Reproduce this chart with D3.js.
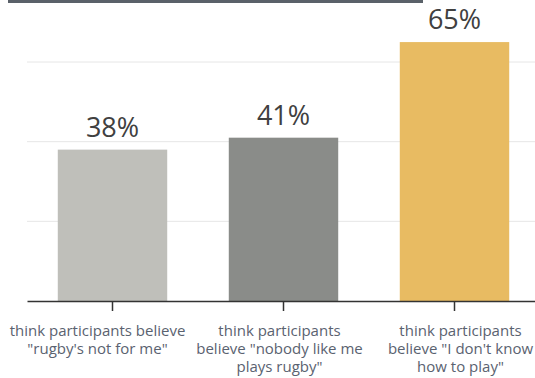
<!DOCTYPE html>
<html>
<head>
<meta charset="utf-8">
<script src="https://cdn.jsdelivr.net/npm/d3@7"></script>
<style>
  body { margin: 0; background: #fff; }
  svg { display: block; font-family: "Open Sans", sans-serif; }
</style>
</head>
<body>
<svg width="535" height="378"></svg>
<script>
// categories (line breaks as in the picture)
const categories = [
  ["think participants believe", "\"rugby's not for me\""],
  ["think participants", "believe \"nobody like me", "plays rugby\""],
  ["think participants", "believe \"I don't know", "how to play\""]
];
const values = [38, 41, 65];
const colours = ["#bfbfba", "#8a8c89", "#e8bb62"];
const gridTicks = [0, 20, 40, 60];

// labels are nudged sideways so they don't collide
const labelShift = [-15, -4, 6];

const svg = d3.select("svg");

// dark strip at the top (rest of a cut title block)
svg.append("rect")
  .attr("x", 8).attr("y", 0)
  .attr("width", 415).attr("height", 3)
  .style("fill", "#5a6169");

const x = d3.scaleBand()
  .domain(d3.range(values.length))
  .range([27, 540])
  .paddingInner(0.36)
  .paddingOuter(0.18);

const y = d3.scaleLinear()
  .domain([0, 60])
  .range([301, 62]);

// gridlines
svg.append("g")
  .selectAll("line")
  .data(gridTicks.filter(d => d > 0))
  .join("line")
  .attr("x1", 27).attr("x2", 535)
  .attr("y1", d => y(d)).attr("y2", d => y(d))
  .style("stroke", "#e6e6e6")
  .style("stroke-width", 1);

// bars
svg.selectAll(".barre")
  .data(values)
  .join("rect")
  .attr("class", "barre")
  .attr("x", (d, i) => x(i))
  .attr("width", x.bandwidth())
  .attr("y", d => y(d))
  .attr("height", d => y(0) - y(d))
  .style("fill", (d, i) => colours[i]);

// value labels
svg.selectAll(".valeur")
  .data(values)
  .join("text")
  .attr("class", "valeur")
  .attr("x", (d, i) => x(i) + x.bandwidth() / 2)
  .attr("y", d => y(d) - 13)
  .attr("text-anchor", "middle")
  .style("font-size", "27px")
  .style("fill", "#404040")
  .text(d => d + "%");

// x axis
const axis = svg.append("g")
  .attr("transform", `translate(0,${y(0)})`)
  .call(d3.axisBottom(x).tickSize(10).tickSizeOuter(0).tickFormat(""));
axis.select(".domain").style("stroke", "#333").style("stroke-width", 1.5);
axis.selectAll(".tick line").style("stroke", "#333").style("stroke-width", 1.5);

// category labels
svg.selectAll(".categorie")
  .data(categories)
  .join("text")
  .attr("class", "categorie")
  .attr("text-anchor", "middle")
  .style("font-size", "15px")
  .style("fill", "#5a6270")
  .each(function(d, i) {
    d3.select(this).selectAll("tspan")
      .data(d)
      .join("tspan")
      .attr("x", x(i) + x.bandwidth() / 2 + labelShift[i])
      .attr("y", (l, j) => 336 + j * 18)
      .text(l => l);
  });
</script>
</body>
</html>
